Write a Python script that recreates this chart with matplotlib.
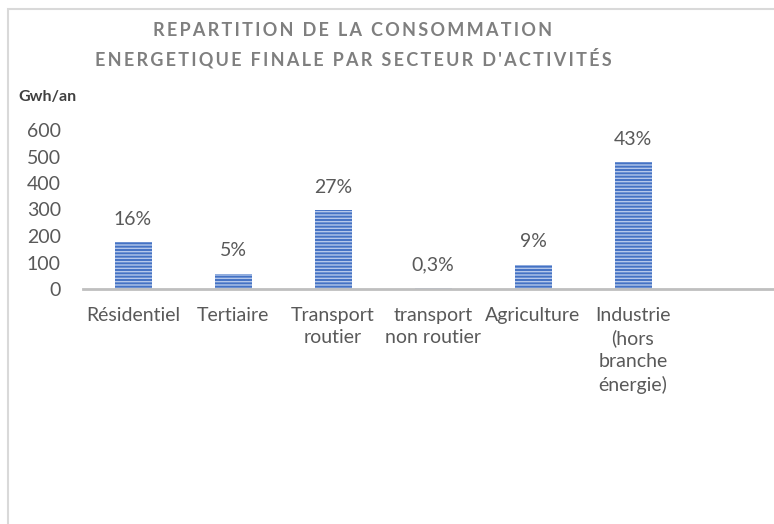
import matplotlib
matplotlib.use("Agg")
import matplotlib.pyplot as plt
from matplotlib.patches import Rectangle

# Données : consommation énergétique finale par secteur (GWh/an)
secteurs = ["Résidentiel", "Tertiaire", "Transport\nroutier", "transport\nnon routier",
            "Agriculture", "Industrie\n(hors\nbranche\nénergie)", ""]
conso = [177, 57, 298, 3, 91, 479, 0]
parts = ["16%", "5%", "27%", "0,3%", "9%", "43%", ""]
yticks = [0, 100, 200, 300, 400, 500, 600]

titre = ["REPARTITION DE LA CONSOMMATION",
         "ENERGETIQUE FINALE PAR SECTEUR D'ACTIVITÉS"]

plt.rcParams["font.family"] = ["Lato", "DejaVu Sans"]
plt.rcParams["hatch.linewidth"] = 1.0

W, H = 774, 524
fig = plt.figure(figsize=(W / 100, H / 100), dpi=100)

# cadre du graphique
fig.patches.append(Rectangle((8 / W, -0.1), 1.2, 1 - 9 / H + 0.1, transform=fig.transFigure,
                             fill=False, edgecolor="#D9D9D9", linewidth=1.5))

ax = fig.add_axes([83 / W, 1 - 289 / H, 700 / W, (289 - 130) / H])
x = list(range(len(secteurs)))
ax.bar(x, conso, width=0.37, color="#4472C4", edgecolor="#B4C7EA", linewidth=0, hatch="-----")
ax.set_xlim(-0.5, len(secteurs) - 0.5)
ax.set_ylim(0, 600)
ax.set_yticks(yticks)
ax.set_yticklabels([str(v) for v in yticks])
ax.set_xticks(x)
ax.set_xticklabels(secteurs, linespacing=1.38)
ax.tick_params(axis="both", length=0, labelsize=14, colors="#595959")
ax.tick_params(axis="y", pad=16)
ax.tick_params(axis="x", pad=13)
for s in ["top", "right", "left"]:
    ax.spines[s].set_visible(False)
ax.spines["bottom"].set_color("#BFBFBF")
ax.spines["bottom"].set_linewidth(2)

for xi, v, p in zip(x, conso, parts):
    if p:
        ax.annotate(p, (xi, v), xytext=(0, 16.5), textcoords="offset points",
                    ha="center", va="center", fontsize=14, color="#595959")

# titre avec espacement des lettres
for i, ligne in enumerate(titre):
    txt = "\u2009".join(ligne).replace("\u2009 \u2009", "\u2009\u2009\u2009\u2009")
    fig.text(353 / W, 1 - (31 + i * 27) / H, txt, ha="center", va="center",
             fontsize=13, color="#7F7F7F", fontweight="bold")

fig.text(18 / W, 1 - 97 / H, "Gwh/an", ha="left", va="center", fontsize=11.5,
         color="#404040", fontweight="bold")

fig.savefig("out.png", dpi=100)
